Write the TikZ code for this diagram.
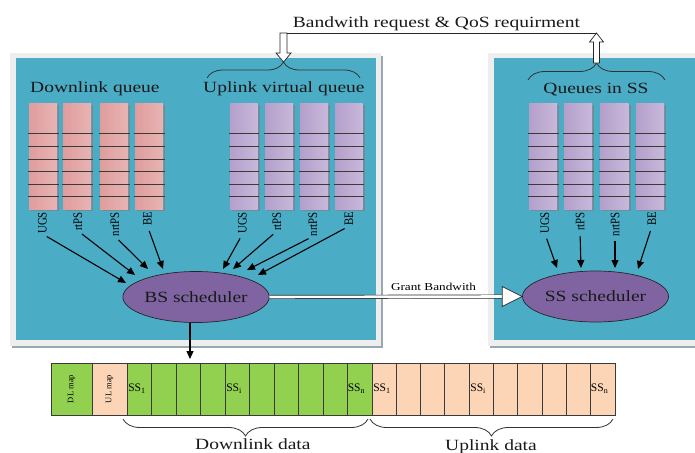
\documentclass[tikz,border=0pt]{standalone}
\usepackage{fontspec}
\setmainfont{Liberation Serif}
\newfontfamily\wf{Liberation Serif}[FakeStretch=1.25]
\newfontfamily\nf{Liberation Serif}[FakeStretch=0.83]
\usetikzlibrary{arrows.meta,decorations.pathreplacing,calc,shapes.geometric}

\definecolor{teal1}{HTML}{4BACC6}
\definecolor{frameg}{HTML}{EEEEEE}
\definecolor{shadowg}{HTML}{98A9B1}
\definecolor{schedc}{HTML}{8064A2}
\definecolor{gcell}{HTML}{92D050}
\definecolor{ocell}{HTML}{FBD5B5}
\definecolor{pinkE}{HTML}{E09C9C}
\definecolor{pinkR}{HTML}{E8B4B4}
\definecolor{pinkM}{HTML}{F7E0E0}
\definecolor{purE}{HTML}{B49FCB}
\definecolor{purR}{HTML}{C8B8DA}
\definecolor{purM}{HTML}{EEE9F4}
\definecolor{colshadow}{HTML}{6F8C99}
\definecolor{lineg}{HTML}{3A3A3A}

\tikzset{
  bigtxt/.style={font=\wf\fontsize{15.6}{18}\selectfont, inner sep=0pt, text=black!90},
  qlab/.style={rotate=90, anchor=east, inner sep=0pt, font=\nf\fontsize{13}{14}\selectfont},
  sched/.style={ellipse, draw=black!85, line width=0.7pt, fill=schedc, inner sep=0pt,
                minimum width=146pt, minimum height=51pt, font=\wf\fontsize{15.6}{18}\selectfont, text=black!90},
  arr/.style={line width=1.1pt, -{Triangle[length=8pt,width=7pt]}},
  rowline/.style={lineg, line width=1pt},
  cell/.style={draw=lineg, line width=0.9pt, minimum height=52pt, inner sep=0pt},
  brc/.style={decorate, draw=black!80, line width=0.8pt},
  hollow/.style={draw=black!85, fill=white, line width=0.7pt},
  sslab/.style={inner sep=0pt, anchor=west, font=\fontsize{11.5}{12}\selectfont},
  maplab/.style={rotate=90, inner sep=0pt, font=\fontsize{8.5}{9}\selectfont}
}

\begin{document}
\begin{tikzpicture}[x=1pt,y=-1pt]
\useasboundingbox (0,0) rectangle (695,452);
\fill[white] (0,0) rectangle (695,452);

% panels
\fill[shadowg] (12,56) rectangle (383,348);
\fill[frameg] (10,53) rectangle (381,346);
\fill[teal1] (16,58) rectangle (376,340);
\fill[shadowg] (490,56) rectangle (697,348);
\fill[frameg] (488,53) rectangle (697,346);
\fill[teal1] (494,58) rectangle (697,340);

% queue columns
\foreach \x/\w/\e/\m/\r in {29/28/pinkE/pinkM/pinkR, 63/28/pinkE/pinkM/pinkR, 100/28/pinkE/pinkM/pinkR, 135/28/pinkE/pinkM/pinkR,
                          230/27.5/purE/purM/purR, 265/28/purE/purM/purR, 300/28/purE/purM/purR, 335/27.5/purE/purM/purR,
                          529/28/purE/purM/purR, 564/28/purE/purM/purR, 600/28.5/purE/purM/purR, 636/28/purE/purM/purR}{
  \fill[colshadow] (\x+2,105) rectangle (\x+\w+2,211);
  \shade[left color=\e, middle color=\m, right color=\r] (\x,103) rectangle (\x+\w,209);
  \foreach \yy in {133.5,146.5,159,171.5,184,196.5}
    \draw[rowline] (\x-1.5,\yy) -- (\x+\w+1.5,\yy);
}

% titles
\node[bigtxt, anchor=base] (title) at (436.5,27.5) {Bandwith request \& QoS requirment};
\node[bigtxt, anchor=base west] (dlq) at (30,92) {Downlink queue};
\node[bigtxt, anchor=base west] (ulq) at (203,92) {Uplink virtual queue};
\node[bigtxt, anchor=base] (ssq) at (596,93) {Queues in SS};

% braces
\draw[brc, decoration={brace, amplitude=16pt}] (207,78) -- (360,78);
\draw[brc, decoration={brace, amplitude=17pt}] (528,80) -- (665,80);
\coordinate (ubr) at (283.5,62);
\coordinate (sbr) at (596.5,63);

% request arrows
\draw[hollow] (ubr) -- ++(7.5,-9) -- ++(-4,0) -- ++(0,-20) -- ++(-7,0) -- ++(0,20) -- ++(-4,0) -- cycle;
\draw[hollow] ($(sbr)+(-3,0)$) -- ++(0,-21) -- ++(-4,0) -- ++(7,-9) coordinate (stip) -- ++(7,9) -- ++(-4,0) -- ++(0,21) -- cycle;
\draw[black!85, line width=0.7pt] ($(ubr)+(3.5,-29)$) -- (stip);

% queue labels
\foreach \n/\x/\t in {1/42.5/UGS, 2/78/rtPS, 3/115/nrtPS, 4/147.5/BE}
  \node[qlab] (dl\n) at (\x,212) {\t};
\foreach \n/\x/\t in {1/242.5/UGS, 2/277/rtPS, 3/313/nrtPS, 4/349/BE}
  \node[qlab] (ul\n) at (\x,212) {\t};
\foreach \n/\x/\t in {1/545/UGS, 2/580/rtPS, 3/615/nrtPS, 4/652/BE}
  \node[qlab] (sl\n) at (\x,212) {\t};

% schedulers
\node[sched] (bs) at (196,297) {BS scheduler};
\node[sched] (ss) at (595.5,296.5) {SS scheduler};

% tips
\coordinate (td1) at ($(bs.center)+(-70,-14)$);
\coordinate (td2) at ($(bs.center)+(-61,-22)$);
\coordinate (td3) at ($(bs.center)+(-48,-28)$);
\coordinate (td4) at ($(bs.center)+(-33,-28)$);
\coordinate (tu1) at ($(bs.center)+(27,-28)$);
\coordinate (tu2) at ($(bs.center)+(37,-28)$);
\coordinate (tu3) at ($(bs.center)+(51,-27)$);
\coordinate (tu4) at ($(bs.center)+(62,-22)$);
\coordinate (ts1) at ($(ss.center)+(-38.5,-28.5)$);
\coordinate (ts2) at ($(ss.center)+(-14.5,-28.5)$);
\coordinate (ts3) at ($(ss.center)+(19.5,-28.5)$);
\coordinate (ts4) at ($(ss.center)+(42.5,-27.5)$);

\foreach \n in {1,2,3,4}{
  \draw[arr, shorten <=5pt] (dl\n.west) -- (td\n);
  \draw[arr, shorten <=5pt] (ul\n.west) -- (tu\n);
  \draw[arr, shorten <=5pt] (sl\n.west) -- (ts\n);
}

% grant bandwidth
\coordinate (gb) at ($(ss.west)+(-20,0)$);
\draw[black!85, line width=0.7pt, double=white, double distance=2.6pt] (bs.east) -- (gb);
\draw[hollow] ($(gb)+(0,-10)$) -- (ss.west) -- ($(gb)+(0,10)$) -- cycle;
\node[inner sep=0pt, anchor=base, font=\wf\fontsize{10.6}{12}\selectfont] (gtxt) at (433.5,290) {Grant Bandwith};

% frame
\node[cell, fill=gcell, minimum width=41pt] (dlm) at (71.5,389) {};
\node[cell, fill=ocell, minimum width=35pt] (ulm) at (109.5,389) {};
\foreach \i in {0,...,9}
  \node[cell, fill=gcell, minimum width=24.5pt] (dc\i) at ({139.25+24.5*\i},389) {};
\foreach \i in {0,...,9}
  \node[cell, fill=ocell, minimum width=24.3pt] (uc\i) at ({384.15+24.3*\i},389) {};
\node[maplab] at (dlm.center) {DL map};
\node[maplab] at (ulm.center) {UL map};
\node[sslab] at ($(dc0.west)+(1.5,0)$) {SS\textsubscript{1}};
\node[sslab] at ($(dc4.west)+(1.5,0)$) {SS\textsubscript{i}};
\node[sslab] at ($(dc9.west)+(0.5,0)$) {SS\textsubscript{n}};
\node[sslab] at ($(uc0.west)+(1.5,0)$) {SS\textsubscript{1}};
\node[sslab] at ($(uc4.west)+(1.5,0)$) {SS\textsubscript{i}};
\node[sslab] at ($(uc9.west)+(0.5,0)$) {SS\textsubscript{n}};

% BS to frame
\coordinate (ftop) at (190,359);
\draw[arr] (bs.south -| ftop) -- (ftop);

% bottom braces
\draw[brc, decoration={brace, amplitude=17pt}] (368,419) -- (123,419);
\draw[brc, decoration={brace, amplitude=17pt}] (613,419) -- (370,419);
\node[bigtxt, anchor=base west] (dld) at (195,449) {Downlink data};
\node[bigtxt, anchor=base west] (uld) at (445,450) {Uplink data};
\end{tikzpicture}
\end{document}
